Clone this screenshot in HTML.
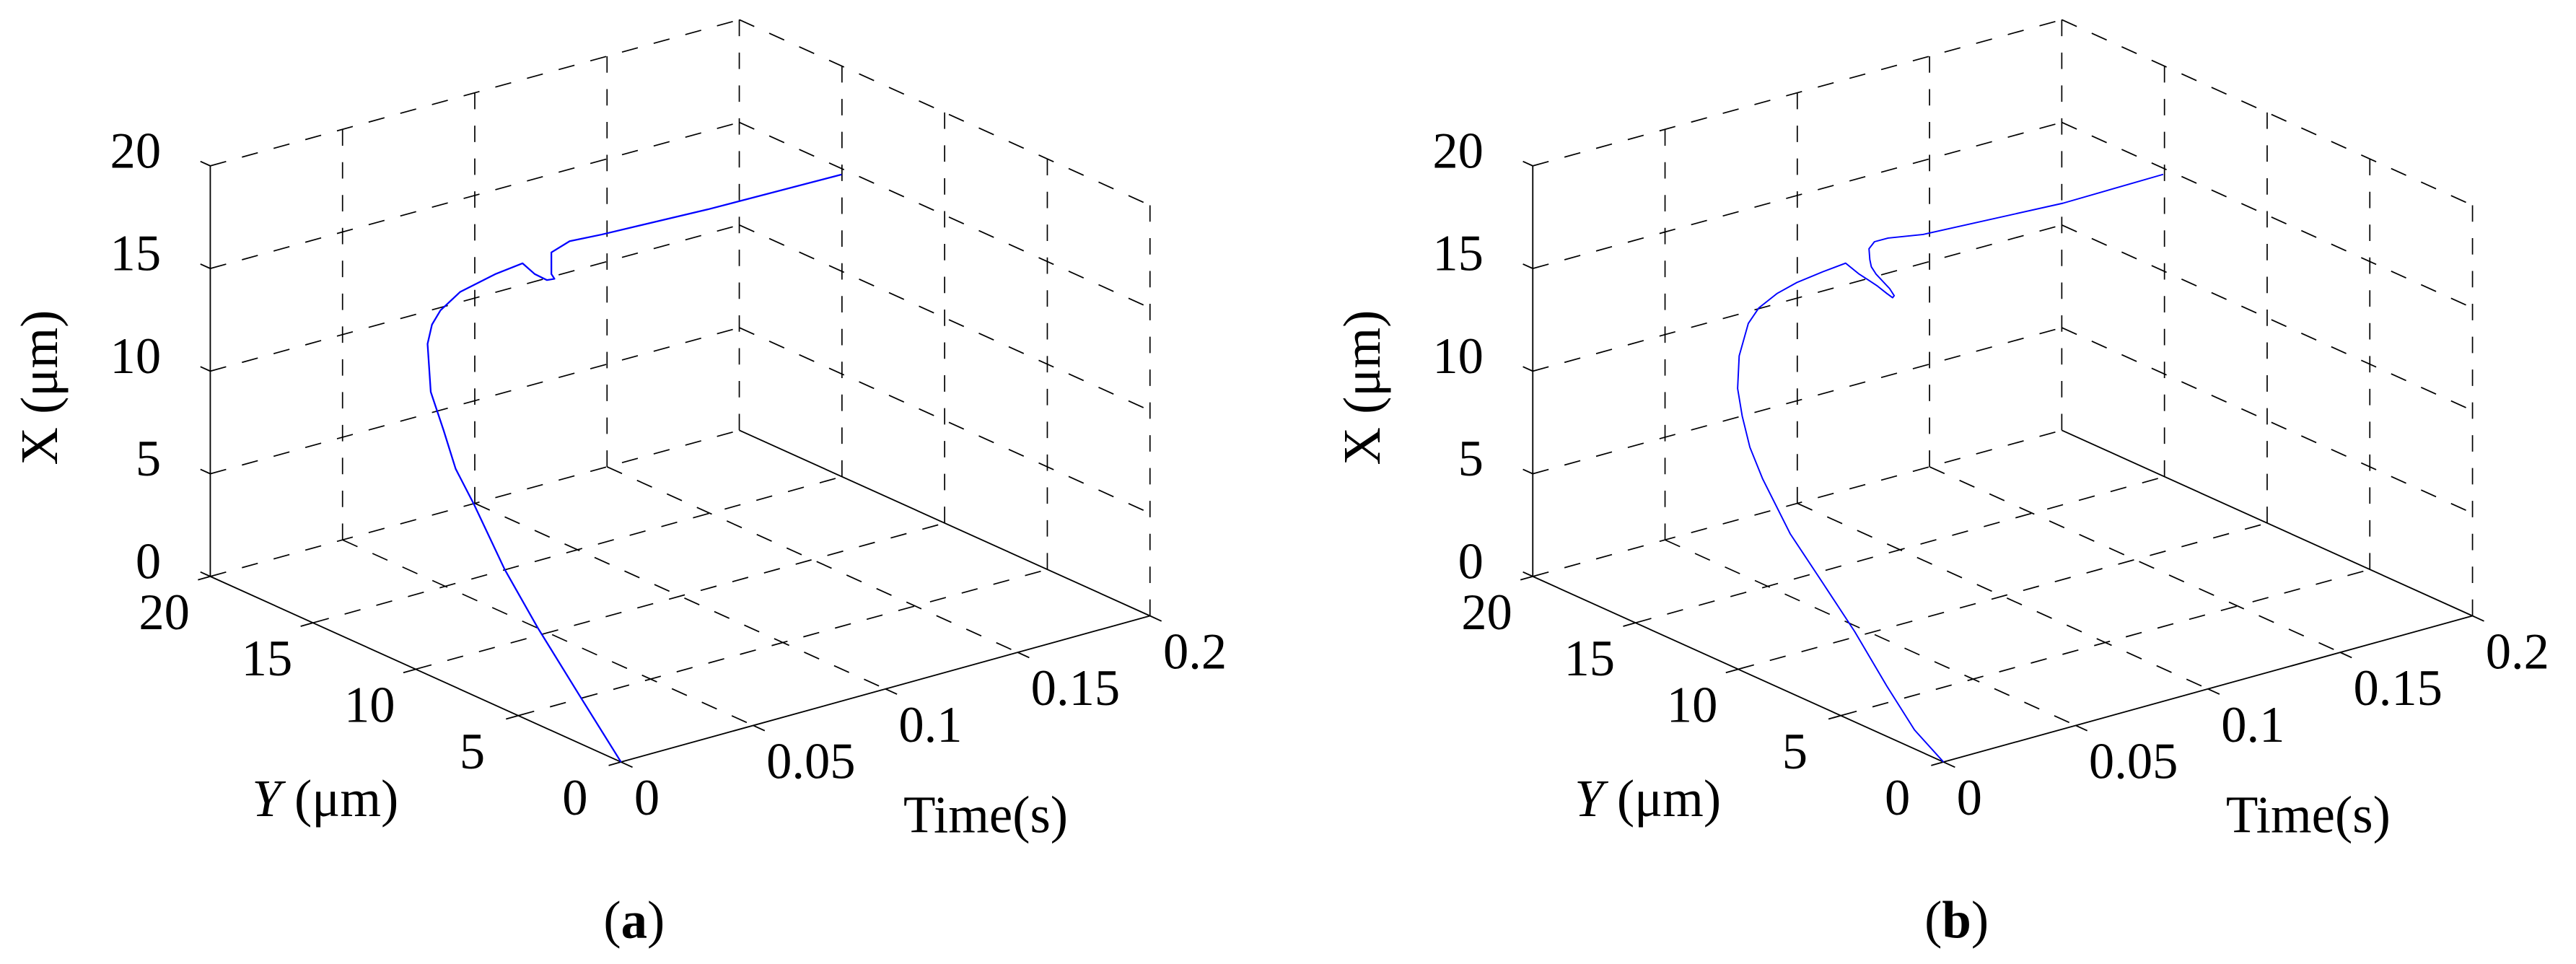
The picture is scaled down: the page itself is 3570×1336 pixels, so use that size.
<!DOCTYPE html>
<html><head><meta charset="utf-8"><style>
html,body{margin:0;padding:0;background:#fff;}
svg{display:block;font-family:"Liberation Serif","DejaVu Serif",serif;}
svg text{font-family:"Liberation Serif","DejaVu Serif",serif;fill:#000;}
</style></head>
<body>
<svg id="fig" width="3570" height="1336" viewBox="0 0 1568 587" preserveAspectRatio="none" font-family="Liberation Serif, serif" xmlns="http://www.w3.org/2000/svg">
<g id="panelA"></g>
<g id="panelB"></g>
</svg>
<script>
// ---- data ----
const tA = [0,0.008,0.016,0.023,0.03,0.035,0.04,0.045,0.05,0.054,0.058,0.064,0.072,0.08,0.084,0.088,0.09,0.091,0.092,0.1,0.112,0.15,0.2];
const yA = [0,3.07,6.12,8.63,11.01,12.56,13.79,15.06,15.86,16.16,16.26,16.08,15.40,15.10,15.02,14.94,14.83,15.11,15.24,15.38,15.37,15.09,15.02];
const xA = [0,1.60,3.21,4.67,6.48,7.36,8.50,9.62,11.42,12.08,12.59,13.35,14.24,14.62,13.99,13.59,13.63,13.70,14.66,14.86,14.76,14.76,14.71];
const tB = [0,0.004,0.008,0.013,0.018,0.023,0.028,0.032,0.035,0.038,0.041,0.045,0.048,0.053,0.058,0.064,0.07,0.074,0.077,0.079,0.081,0.083,0.084,0.085,0.087,0.088,0.089,0.09,0.093,0.098,0.11,0.16,0.2];
const yB = [0,1.93,3.79,6.00,8.21,10.43,12.41,13.55,14.31,14.92,15.23,15.30,15.17,14.92,14.61,14.12,13.78,13.64,13.57,13.39,13.20,13.17,13.22,13.57,14.49,14.85,15.05,15.22,15.34,15.32,15.16,14.79,15.06];
const xB = [0,0.55,1.70,3.18,4.39,5.59,7.18,8.07,9.14,10.10,11.44,12.85,13.56,14.20,14.69,15.22,15.58,14.97,14.60,14.32,13.98,13.71,13.75,13.90,14.12,14.28,14.50,14.92,15.10,15.11,14.93,14.84,14.70];
const xTicks = [0,5,10,15,20];
const xTickLabels = ["0","5","10","15","20"];
const yTicks = [0,5,10,15,20];
const yTickLabels = ["0","5","10","15","20"];
const tTicks = [0,0.05,0.1,0.15,0.2];
const tTickLabels = ["0","0.05","0.1","0.15","0.2"];
const tMax = 0.2, yMax = 20, xMax = 20;

const NS = "http://www.w3.org/2000/svg";
const FF = '"Liberation Serif", "DejaVu Serif", serif';
function mk(tag, attrs, parent){const e=document.createElementNS(NS,tag);for(const k in attrs)e.setAttribute(k,attrs[k]);if(tag==="text"){e.setAttribute("font-family",FF);e.style.fontFamily=FF;}parent.appendChild(e);return e;}

function drawPanel(g, ox, tArr, yArr, xArr, letter, curveW){
  const P = (t,Y,X)=>[ox - 12.5*Y + 1610*t, 464 - 5.65*Y - 445*t - 12.5*X];
  const line = (a,b,dashed,name)=>{
    const e = mk("line",{x1:a[0],y1:a[1],x2:b[0],y2:b[1],stroke:"#000","stroke-width":dashed?0.75:0.8},g);
    if(dashed) e.setAttribute("stroke-dasharray","10 10");
    
    
    return e;
  };
  xTicks.forEach(x=>{ if(x>0) line(P(0,yMax,x),P(tMax,yMax,x),true,"grid-back-wall-x"); });
  line(P(0,yMax,0),P(tMax,yMax,0),true,"grid-floor-edge");
  tTicks.forEach(t=>{ if(t>0) line(P(t,yMax,0),P(t,yMax,xMax),true,"grid-back-wall-t"); });
  xTicks.forEach(x=>{ if(x>0) line(P(tMax,yMax,x),P(tMax,0,x),true,"grid-side-wall-x"); });
  yTicks.forEach(y=>{ if(y<yMax) line(P(tMax,y,0),P(tMax,y,xMax),true,"grid-side-wall-y"); });
  tTicks.forEach(t=>{ if(t>0 && t<tMax) line(P(t,yMax,0),P(t,0,0),true,"grid-floor-t"); });
  yTicks.forEach(y=>{ if(y>0 && y<yMax) line(P(0,y,0),P(tMax,y,0),true,"grid-floor-y"); });
  line(P(0,yMax,0),P(0,yMax,xMax),false,"x-axis");
  line(P(0,yMax,0),P(0,0,0),false,"y-axis");
  line(P(0,0,0),P(tMax,0,0),false,"time-axis");
  line(P(tMax,yMax,0),P(tMax,0,0),false,"floor-edge");
  xTicks.forEach((x,i)=>{
    const a=P(0,yMax,x); line(a,[a[0]-6,a[1]-2.7],false,"x-tick");
    const tx=mk("text",{x:a[0]-30,y:a[1]-9,"font-size":31,"text-anchor":"end","dominant-baseline":"central"},g);
    tx.textContent=xTickLabels[i];
    
    
  });
  yTicks.forEach((y,i)=>{
    const a=P(0,y,0); line(a,[a[0]-7.5,a[1]+2.1],false,"y-tick");
    const tx=mk("text",{x:a[0]-28,y:a[1]+22,"font-size":31,"text-anchor":"middle","dominant-baseline":"central"},g);
    tx.textContent=yTickLabels[i];
    
    
  });
  tTicks.forEach((t,i)=>{
    const a=P(t,0,0); line(a,[a[0]+7,a[1]+3.2],false,"time-tick");
    const tx=mk("text",{x:a[0]+8,y:a[1]+22,"font-size":31,"text-anchor":"start","dominant-baseline":"central"},g);
    tx.textContent=tTickLabels[i];
    
    
  });
  let e=mk("text",{x:0,y:0,"font-size":32,"text-anchor":"middle","dominant-baseline":"central",transform:`translate(${ox-354},236) rotate(-90)`},g);
  e.textContent="X (\u03bcm)";
  
  
  e=mk("text",{x:ox-180,y:497,"font-size":32,"text-anchor":"middle"},g);
  e.innerHTML='<tspan font-style="italic">Y</tspan> (\u03bcm)';
  
  
  e=mk("text",{x:ox+222,y:496,"font-size":32,"text-anchor":"middle","dominant-baseline":"central"},g);
  e.textContent="Time(s)";
  
  
  e=mk("text",{x:ox+8,y:560,"font-size":32,"text-anchor":"middle","dominant-baseline":"central"},g);
  e.innerHTML='(<tspan font-weight="bold">'+letter+'</tspan>)';
  
  
  const pts = tArr.map((t,i)=>P(t,yArr[i],xArr[i]).map(v=>v.toFixed(2)).join(",")).join(" ");
  const pl = mk("polyline",{points:pts,fill:"none",stroke:"#0000ff","stroke-width":curveW,"stroke-linejoin":"round"},g);
  
  
}
drawPanel(document.getElementById("panelA"), 378, tA, yA, xA, "a", 1.0);
drawPanel(document.getElementById("panelB"), 1183, tB, yB, xB, "b", 0.85);
</script>
</body></html>
